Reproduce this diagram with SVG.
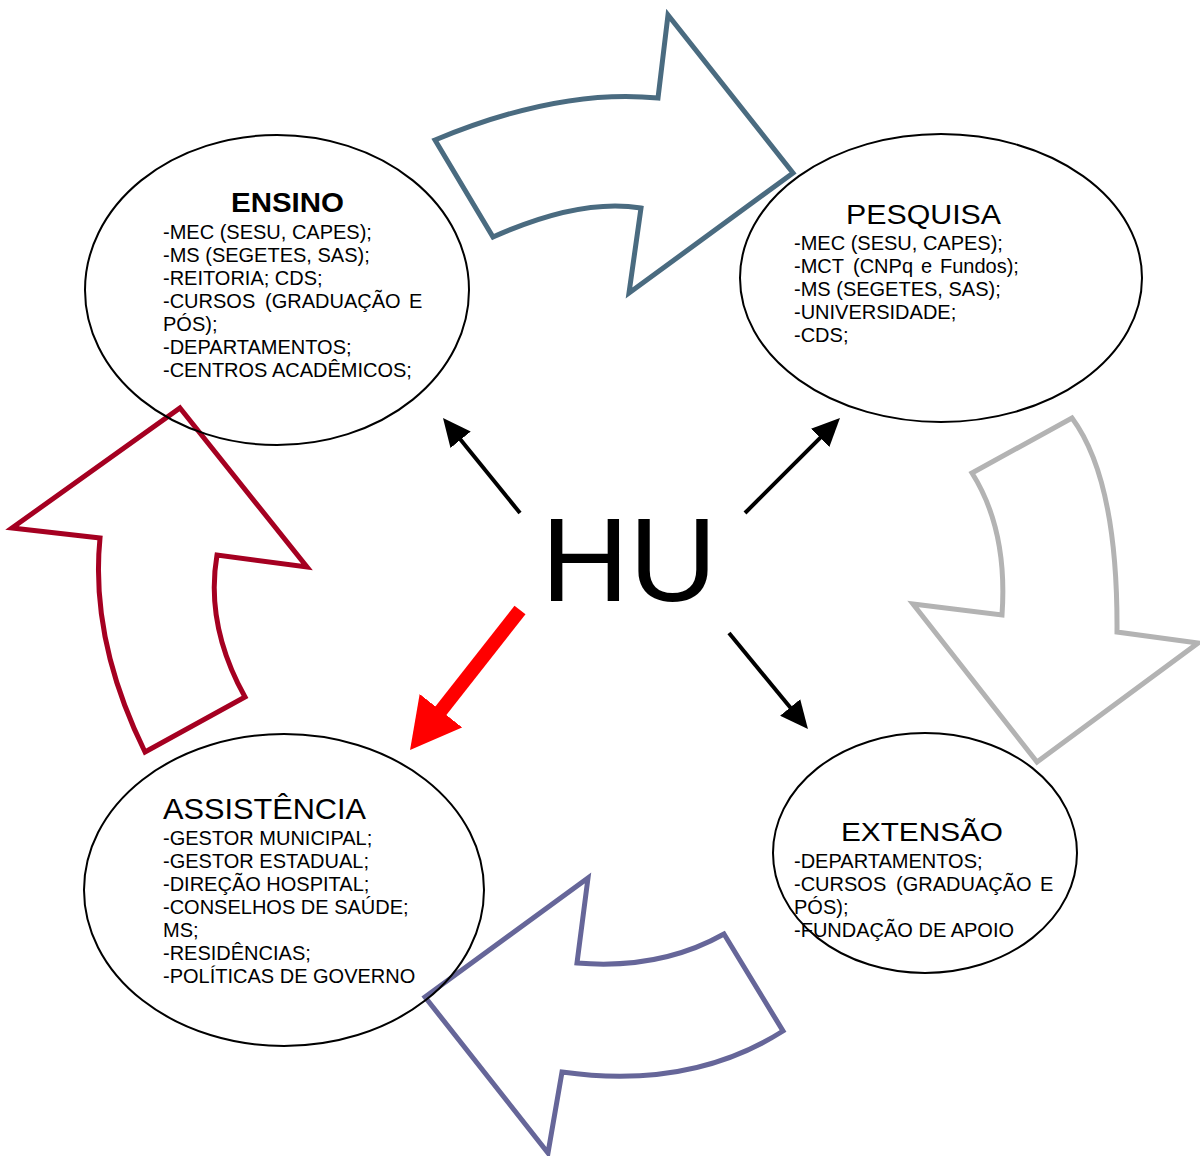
<svg xmlns="http://www.w3.org/2000/svg" width="1200" height="1156" viewBox="0 0 1200 1156">
  <style>
    .node-shape { fill: none; stroke: #000; stroke-width: 2; }
    .title { font-family: "Liberation Sans", Arial, sans-serif; font-size: 27px; fill: #000; }
    .title-bold { font-weight: bold; }
    .body { font-family: "Liberation Sans", Arial, sans-serif; font-size: 20px; fill: #000; }
    .hub { font-family: "Liberation Sans", Arial, sans-serif; font-size: 118px; fill: #000; }
    .cycle { fill: none; stroke-width: 5; stroke-linejoin: miter; }
    .link { stroke: #000; stroke-width: 4; fill: none; }
    .link-main { stroke: #ff0000; stroke-width: 14; fill: none; }
  </style>
  <defs>
    <marker id="head" markerUnits="userSpaceOnUse" markerWidth="30" markerHeight="26" refX="18" refY="13" orient="auto">
      <path d="M0,0 L28,13 L0,26 Z" fill="#000"/>
    </marker>
    <marker id="head-main" markerUnits="userSpaceOnUse" markerWidth="52" markerHeight="54" refX="30" refY="27" orient="auto">
      <path d="M0,0 L50,27 L0,54 Z" fill="#ff0000"/>
    </marker>
  </defs>

  <rect width="1200" height="1156" fill="#fff"/>

  <!-- cycle arrows between the four areas -->
  <g id="cycle-arrows">
    <path id="cycle-ensino-pesquisa" class="cycle" stroke="#4a6b80"
          d="M435,140 Q560,88 658,98 L668,15 L793,173 L629,293 L641,208 Q580,198 493,237 Z"/>
    <path id="cycle-pesquisa-extensao" class="cycle" stroke="#b3b3b3"
          d="M972,473 L1072,418 Q1118,480 1117,632 L1198,643 L1037,762 L913,604 L1002,615 Q1008,530 972,473 Z"/>
    <path id="cycle-extensao-assistencia" class="cycle" stroke="#666699"
          d="M425,997 L588,878 L577,963 Q660,970 724,934 L783,1031 Q690,1090 562,1072 L548,1153 Z"/>
    <path id="cycle-assistencia-ensino" class="cycle" stroke="#a50021"
          d="M180,408 L307,567 L217,555 Q205,625 245,697 L145,752 Q90,640 100,538 L12,528 Z"/>
  </g>

  <!-- connectors from the hub to each area -->
  <g id="connectors">
    <line class="link" x1="520" y1="513" x2="449.3" y2="425.8" marker-end="url(#head)"/>
    <line class="link" x1="745" y1="513" x2="832.9" y2="425.1" marker-end="url(#head)"/>
    <line class="link" x1="729" y1="633" x2="801.6" y2="721.3" marker-end="url(#head)"/>
    <line class="link-main" x1="520" y1="610" x2="422.4" y2="734.3" marker-end="url(#head-main)"/>
  </g>

  <g id="hub">
    <text class="hub" x="541" y="601" textLength="176" lengthAdjust="spacingAndGlyphs">HU</text>
  </g>

  <g id="ensino">
    <ellipse class="node-shape" cx="277" cy="290" rx="192" ry="155"/>
    <text class="title title-bold" x="231" y="212" textLength="113" lengthAdjust="spacingAndGlyphs">ENSINO</text>
    <text class="body">
      <tspan x="163" y="238.5">-MEC (SESU, CAPES);</tspan>
      <tspan x="163" y="261.5">-MS (SEGETES, SAS);</tspan>
      <tspan x="163" y="284.5">-REITORIA; CDS;</tspan>
      <tspan x="163" y="307.5">-CURSOS</tspan><tspan x="265" y="307.5">(GRADUAÇÃO</tspan><tspan x="428" y="307.5" text-anchor="end">E</tspan>
      <tspan x="163" y="330.5">PÓS);</tspan>
      <tspan x="163" y="353.5">-DEPARTAMENTOS;</tspan>
      <tspan x="163" y="376.5">-CENTROS ACADÊMICOS;</tspan>
    </text>
  </g>

  <g id="pesquisa">
    <ellipse class="node-shape" cx="941" cy="278" rx="201" ry="144"/>
    <text class="title" x="846" y="224" textLength="155" lengthAdjust="spacingAndGlyphs">PESQUISA</text>
    <text class="body">
      <tspan x="794" y="249.5">-MEC (SESU, CAPES);</tspan>
      <tspan x="794" y="272.5">-MCT</tspan><tspan x="853" y="272.5">(CNPq</tspan><tspan x="921" y="272.5">e</tspan><tspan x="940" y="272.5">Fundos);</tspan>
      <tspan x="794" y="295.5">-MS (SEGETES, SAS);</tspan>
      <tspan x="794" y="318.5">-UNIVERSIDADE;</tspan>
      <tspan x="794" y="341.5">-CDS;</tspan>
    </text>
  </g>

  <g id="assistencia">
    <ellipse class="node-shape" cx="284" cy="890" rx="200" ry="156"/>
    <text class="title" x="163" y="819" style="font-size:29px" textLength="203" lengthAdjust="spacingAndGlyphs">ASSISTÊNCIA</text>
    <text class="body">
      <tspan x="163" y="844.5">-GESTOR MUNICIPAL;</tspan>
      <tspan x="163" y="867.5">-GESTOR ESTADUAL;</tspan>
      <tspan x="163" y="890.5">-DIREÇÃO HOSPITAL;</tspan>
      <tspan x="163" y="913.5">-CONSELHOS DE SAÚDE;</tspan>
      <tspan x="163" y="936.5">MS;</tspan>
      <tspan x="163" y="959.5">-RESIDÊNCIAS;</tspan>
      <tspan x="163" y="982.5">-POLÍTICAS DE GOVERNO</tspan>
    </text>
  </g>

  <g id="extensao">
    <ellipse class="node-shape" cx="925" cy="853" rx="152" ry="120"/>
    <text class="title" x="841" y="840.5" style="font-size:26px" textLength="162" lengthAdjust="spacingAndGlyphs">EXTENSÃO</text>
    <text class="body">
      <tspan x="794" y="867.5">-DEPARTAMENTOS;</tspan>
      <tspan x="794" y="890.5">-CURSOS</tspan><tspan x="896" y="890.5">(GRADUAÇÃO</tspan><tspan x="1059" y="890.5" text-anchor="end">E</tspan>
      <tspan x="794" y="913.5">PÓS);</tspan>
      <tspan x="794" y="936.5">-FUNDAÇÃO DE APOIO</tspan>
    </text>
  </g>
</svg>
